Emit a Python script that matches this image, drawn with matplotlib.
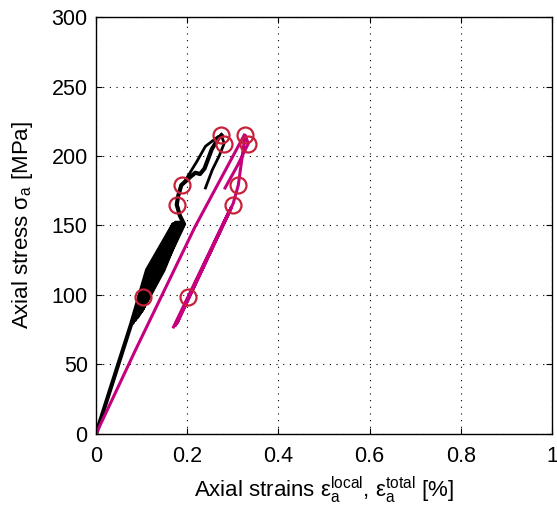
import numpy as np
import matplotlib
matplotlib.use("Agg")
import matplotlib.pyplot as plt

plt.rcParams['font.family'] = ['Liberation Sans', 'DejaVu Sans']
plt.rcParams['mathtext.fontset'] = 'custom'
plt.rcParams['mathtext.rm'] = 'Liberation Sans'
plt.rcParams['mathtext.it'] = 'Liberation Sans'
plt.rcParams['mathtext.bf'] = 'Liberation Sans:bold'

# local strain (black): first loading, load cycles, then up to peak
local_x = [0.0, 0.077, 0.112, 0.170,
           0.120, 0.080, 0.118, 0.175,
           0.126, 0.085, 0.124, 0.179,
           0.132, 0.090, 0.130, 0.183,
           0.138, 0.094, 0.136, 0.187,
           0.144, 0.098, 0.141, 0.190,
           0.148, 0.100, 0.145, 0.193,
           0.184, 0.177, 0.180, 0.187, 0.207, 0.218, 0.228, 0.238, 0.254, 0.269, 0.275]
local_y = [0.0, 79, 118, 151,
           118, 80, 118, 152,
           118, 82, 118, 152,
           118, 84, 118, 152,
           118, 86, 118, 152,
           118, 88, 118, 152,
           118, 89, 118, 151,
           157, 165, 171, 179, 185, 188, 187, 191, 205, 213, 215]

local2_x = [0.195, 0.221, 0.240, 0.268, 0.276, 0.281, 0.270, 0.255, 0.240]
local2_y = [182, 196, 207, 214, 214, 209, 200, 190, 177]

# total strain (magenta)
total_load_x = [0.0, 0.086, 0.217, 0.325]
total_load_y = [0.0, 60, 149, 215]

total_x = [0.170, 0.293, 0.174, 0.297, 0.178, 0.301,
           0.312, 0.327, 0.334, 0.310, 0.283]
total_y = [77, 161, 78, 163, 80, 166,
           179, 215, 209, 193, 177]

# marked points
mark_local_x = [0.103, 0.178, 0.189, 0.274, 0.281]
mark_total_x = [0.202, 0.300, 0.311, 0.327, 0.333]
mark_y = [98.6, 164.7, 179, 215, 208.6]

fig = plt.figure(figsize=(5.57, 5.16), dpi=100)
ax = fig.add_axes([0.1724, 0.159, 0.8186, 0.808])

black = '#000000'
pink = '#C4007E'
red = '#C8203A'

ax.plot(local_x, local_y, color=black, lw=3.0, solid_joinstyle='round')
ax.plot(local2_x, local2_y, color=black, lw=2.0)
ax.plot(total_load_x, total_load_y, color=pink, lw=2.2)
ax.plot(total_x, total_y, color=pink, lw=2.2, solid_joinstyle='round')

ax.plot(mark_local_x, mark_y, 'o', mfc='none', mec=red, ms=11.5, mew=1.6)
ax.plot(mark_total_x, mark_y, 'o', mfc='none', mec=red, ms=11.5, mew=1.6)

ax.set_xlim(0, 1)
ax.set_ylim(0, 300)
ax.set_xticks([0, 0.2, 0.4, 0.6, 0.8, 1])
ax.set_xticklabels(['0', '0.2', '0.4', '0.6', '0.8', '1'])
ax.set_yticks([0, 50, 100, 150, 200, 250, 300])
ax.grid(True, color='black', linestyle=(0, (1, 5)), linewidth=0.8)
ax.tick_params(direction='in', top=True, right=True, labelsize=15.5, length=4, width=0.8)
ax.tick_params(axis='x', pad=9)
ax.tick_params(axis='y', pad=6)
for s in ax.spines.values():
    s.set_linewidth(1.0)

ax.set_xlabel(r'Axial strains $\mathregular{\varepsilon_a^{local}}$, $\mathregular{\varepsilon_a^{total}}$ [%]', fontsize=16, labelpad=5)
ax.set_ylabel(r'Axial stress $\mathregular{\sigma_a}$ [MPa]', fontsize=16, labelpad=12)

fig.savefig('out.png', dpi=100)
